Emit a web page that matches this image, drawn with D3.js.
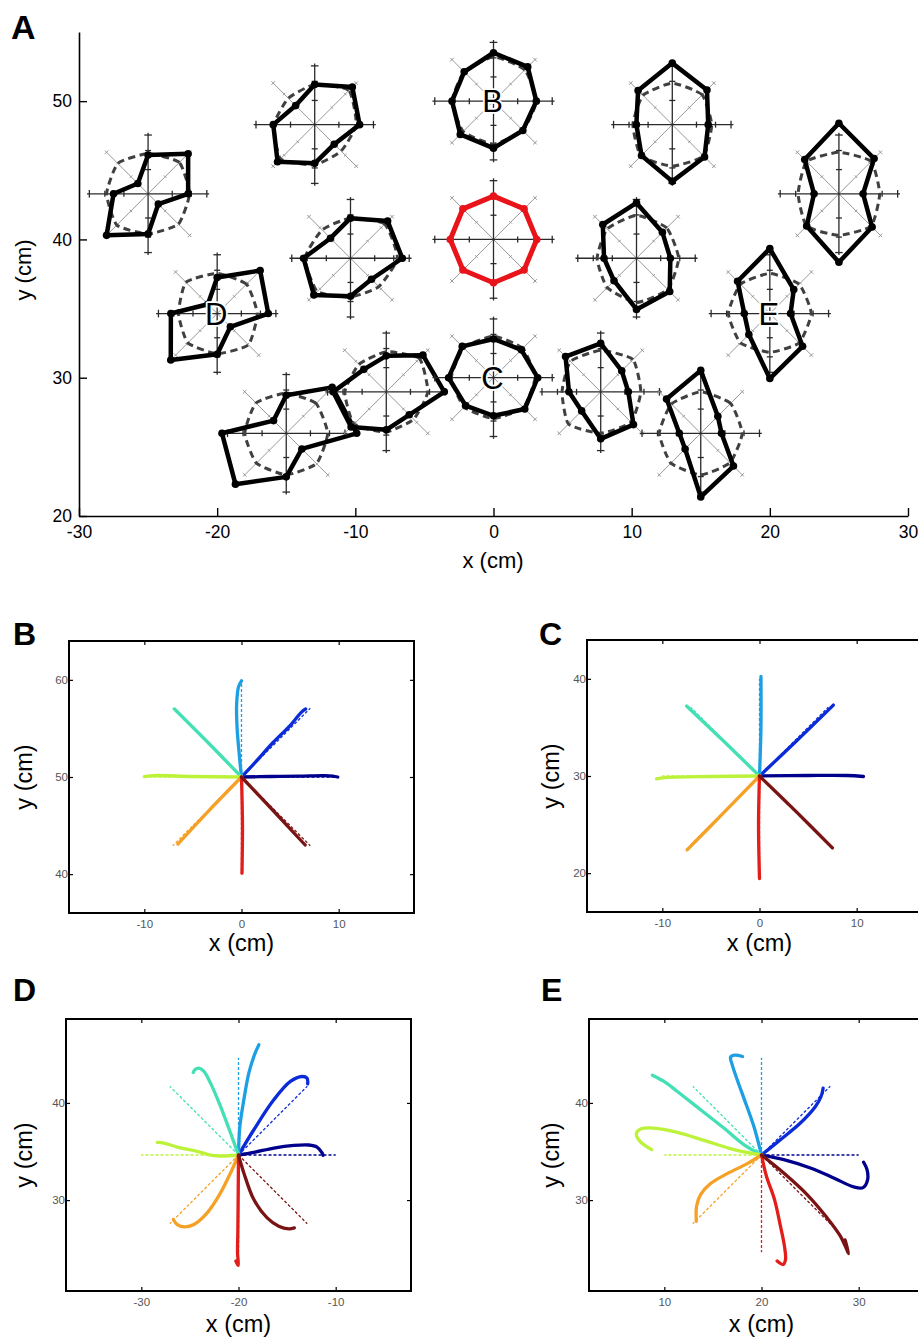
<!DOCTYPE html>
<html>
<head>
<meta charset="utf-8">
<script src="https://cdn.jsdelivr.net/npm/d3@7"></script>
<style>
  body { margin: 0; background: #fff; }
  svg { display: block; }
</style>
</head>
<body>
<svg id="fig" width="918" height="1338"></svg>
<script>
// Reaching directions: E, NE, N, NW, W, SW, S, SE
const dirAngles = [0, 45, 90, 135, 180, 225, 270, 315];
const dirColors = ["#00008c", "#0b2bd8", "#1d9fe3", "#42e0b4", "#bdf23a", "#f4a126", "#e31d1a", "#7a1313"];

// ---------------------------
// Panel A data (cm)
// ---------------------------
const xTicksA = [-30, -20, -10, 0, 10, 20, 30];
const yTicksA = [20, 30, 40, 50];

const starX = [-25, -12.94, 0, 12.94, 25, -20, -10.35, 0, 10.35, 20, -15, -7.76, 0, 7.76, 15];
const starY = [43.3, 48.3, 50, 48.3, 43.3, 34.64, 38.64, 40, 38.64, 34.64, 25.98, 28.98, 30, 28.98, 25.98];
const starLabel = ["", "", "B", "", "", "D", "", "", "", "E", "", "", "C", "", ""];
const refStar = 7; // red reference workspace location

// radius (cm) of each vertex, per direction E..SE
const solidR = [
  [2.9, 4.1, 2.8, 1.05, 2.5, 4.25, 2.9, 1.05],
  [3.25, 3.85, 2.9, 1.95, 3.0, 3.8, 2.8, 2.0],
  [3.1, 3.5, 3.5, 3.0, 3.0, 3.4, 3.4, 3.0],
  [2.6, 3.55, 4.45, 3.5, 2.6, 3.15, 4.1, 3.3],
  [1.75, 3.6, 5.1, 3.5, 1.8, 3.3, 4.95, 3.4],
  [3.7, 4.4, 2.6, 0.95, 3.35, 4.75, 2.95, 1.35],
  [3.75, 3.8, 2.9, 2.05, 3.4, 3.75, 2.75, 2.15],
  [3.13, 3.13, 3.13, 3.13, 3.13, 3.13, 3.13, 3.13],
  [2.45, 2.65, 4.0, 3.45, 2.35, 2.3, 3.7, 3.4],
  [1.5, 2.45, 4.7, 3.3, 1.85, 2.15, 4.7, 3.35],
  [5.1, 4.7, 2.75, 1.3, 4.65, 5.2, 3.15, 1.6],
  [4.2, 3.75, 2.6, 2.3, 3.85, 3.6, 2.75, 2.35],
  [3.2, 2.85, 2.8, 3.2, 3.25, 2.85, 2.75, 3.2],
  [2.0, 2.15, 3.5, 3.6, 2.3, 1.95, 3.4, 3.35],
  [1.5, 1.75, 4.55, 3.5, 1.55, 1.6, 4.6, 3.35]
];
const dashR = [
  [3.0, 3.2, 2.9, 3.1, 3.0, 3.2, 2.9, 3.1],
  [3.0, 3.5, 2.9, 2.7, 2.95, 3.5, 2.9, 2.7],
  [3.1, 3.2, 3.2, 3.0, 3.0, 3.1, 3.1, 3.0],
  [2.85, 3.05, 3.0, 3.0, 2.85, 3.2, 3.0, 3.2],
  [2.95, 3.3, 3.0, 3.3, 2.95, 3.3, 3.0, 3.3],
  [2.9, 3.0, 2.9, 3.2, 2.8, 3.0, 2.9, 3.2],
  [3.4, 3.5, 2.9, 2.9, 3.3, 3.4, 2.8, 2.9],
  [3.13, 3.13, 3.13, 3.13, 3.13, 3.13, 3.13, 3.13],
  [3.05, 3.1, 3.1, 3.0, 2.85, 3.0, 3.2, 3.2],
  [3.0, 3.0, 2.9, 3.0, 3.0, 3.0, 2.8, 3.0],
  [3.0, 3.05, 2.9, 3.1, 3.0, 3.05, 3.0, 3.1],
  [3.0, 3.4, 2.9, 2.8, 3.0, 3.3, 2.9, 2.8],
  [3.0, 3.0, 3.0, 3.05, 3.05, 3.0, 2.95, 3.05],
  [2.9, 3.3, 3.0, 3.1, 2.8, 3.3, 3.0, 3.1],
  [3.0, 3.05, 3.0, 3.0, 3.0, 3.05, 3.0, 3.0]
];

// ---------------------------
// Panels B-E data (cm)
// ---------------------------
const idealDX = [10, 7.07, 0, -7.07, -10, -7.07, 0, 7.07];
const idealDY = [0, 7.07, 10, 7.07, 0, -7.07, -10, -7.07];

const centerB = [0, 50];
const xTicksB = [-10, 0, 10], yTicksB = [40, 50, 60];
const trajB = [
  [[0, 50], [3, 50.05], [6, 50.1], [8.5, 50.15], [9.4, 50.1], [9.9, 50]],
  [[0, 50], [1.5, 51.6], [3.2, 53.5], [5, 55.3], [6.2, 56.7], [6.6, 57.0]],
  [[0, 50], [-0.2, 52], [-0.45, 55], [-0.5, 57.5], [-0.3, 59.3], [0, 59.9]],
  [[0, 50], [-3.4, 53.5], [-6.9, 57.0]],
  [[0, 50], [-5, 50.05], [-9, 50.15], [-10, 50.05]],
  [[0, 50], [-3.3, 46.6], [-6.55, 43.1]],
  [[0, 50], [0.1, 45], [0.05, 40.1]],
  [[0, 50], [3.3, 46.5], [6.55, 43.0]]
];

const centerC = [0, 30];
const xTicksC = [-10, 0, 10], yTicksC = [20, 30, 40];
const trajC = [
  [[0, 30], [5, 30.05], [9, 30.05], [10.7, 29.95]],
  [[0, 30], [3.8, 33.6], [7.6, 37.3]],
  [[0, 30], [0.15, 35], [0.15, 40.25]],
  [[0, 30], [-3.7, 33.6], [-7.5, 37.2]],
  [[0, 30], [-5, 29.95], [-9.5, 29.85], [-10.6, 29.7]],
  [[0, 30], [-3.7, 26.2], [-7.45, 22.4]],
  [[0, 30], [-0.1, 25], [0, 19.45]],
  [[0, 30], [3.8, 26.3], [7.5, 22.6]]
];

const centerD = [-20, 34.64];
const xTicksD = [-30, -20, -10], yTicksD = [30, 40];
const trajD = [
  [[-20, 34.64], [-18.42, 34.91], [-16.37, 35.36], [-14.32, 35.63], [-12.77, 35.67], [-11.92, 35.46], [-11.4, 34.85], [-11.3, 34.6]],
  [[-20, 34.64], [-18.42, 37.24], [-16.37, 40.32], [-14.66, 42.21], [-13.46, 42.72], [-12.95, 42.55], [-12.88, 41.97]],
  [[-20, 34.64], [-19.86, 37.59], [-19.45, 40.32], [-18.94, 43.06], [-18.36, 44.95], [-17.91, 45.98]],
  [[-20, 34.64], [-20.82, 36.9], [-21.85, 39.64], [-22.88, 42.04], [-23.56, 43.24], [-24.08, 43.58], [-24.49, 43.41], [-24.66, 43.13]],
  [[-20, 34.64], [-22.53, 34.57], [-24.25, 35.02], [-26.3, 35.46], [-27.67, 35.87], [-28.36, 35.94]],
  [[-20, 34.64], [-20.82, 32.79], [-21.85, 30.74], [-23.22, 28.68], [-24.59, 27.48], [-25.55, 27.24], [-26.3, 27.48], [-26.71, 28.0]],
  [[-20, 34.64], [-20.03, 30.74], [-20.07, 26.63], [-20.1, 24.57], [-20.03, 23.27], [-20.27, 23.72]],
  [[-20, 34.64], [-19.45, 32.79], [-18.42, 30.05], [-17.05, 28.17], [-15.86, 27.31], [-14.83, 27.04], [-14.25, 27.14]]
];

const centerE = [20, 34.64];
const xTicksE = [10, 20, 30], yTicksE = [30, 40];
const trajE = [
  [[20, 34.64], [22.29, 34.16], [25.03, 33.3], [27.43, 32.28], [29.49, 31.35], [30.45, 31.28], [30.92, 32.11], [30.86, 33.13], [30.51, 33.89]],
  [[20, 34.64], [21.95, 36.22], [24.0, 37.93], [25.55, 39.64], [26.13, 40.67], [26.34, 41.52]],
  [[20, 34.64], [19.21, 37.59], [18.25, 40.32], [17.5, 42.38], [16.99, 43.92], [16.82, 44.71], [17.23, 44.91], [18.05, 44.78]],
  [[20, 34.64], [18.18, 35.7], [16.13, 37.41], [13.73, 39.3], [11.34, 41.18], [9.97, 42.21], [8.77, 42.86]],
  [[20, 34.64], [17.16, 35.19], [14.08, 36.15], [11.34, 36.97], [8.94, 37.41], [7.57, 37.31], [7.12, 36.83], [7.5, 36.04], [8.7, 35.19]],
  [[20, 34.64], [18.53, 33.75], [16.47, 32.72], [14.76, 31.7], [13.73, 30.56], [13.32, 29.37], [13.29, 27.82]],
  [[20, 34.64], [20.51, 32.45], [21.34, 30.05], [21.95, 27.31], [22.36, 25.26], [22.47, 23.89], [22.23, 23.37], [21.61, 23.72]],
  [[20, 34.64], [22.29, 32.79], [24.69, 30.57], [26.75, 28.17], [28.12, 26.28], [28.97, 24.5], [28.6, 25.9]]
];

const FONT = '"Liberation Sans", Arial, Helvetica, sans-serif';
const svg = d3.select("#fig").attr("font-family", FONT);
const rad = a => a * Math.PI / 180;
const plainNum = d => String(d); // hyphen minus, as in the original

// ---------------------------
// Panel A
// ---------------------------
const xA = d3.scaleLinear().domain([-30, 30]).range([79, 908]);
const yA = d3.scaleLinear().domain([20, 55]).range([516, 32]);

function styleAxis(g, size) {
  g.attr("font-family", FONT).attr("font-size", size);
  g.select(".domain").attr("stroke", "#000").attr("stroke-width", 1.6);
  g.selectAll(".tick line").attr("stroke", "#000").attr("stroke-width", 1.4);
  g.selectAll(".tick text").attr("fill", "#000");
}

const gA = svg.append("g");

gA.append("g")
  .attr("transform", `translate(0,${yA(20)})`)
  .call(d3.axisBottom(xA).tickValues(xTicksA).tickFormat(plainNum).tickSize(-8).tickSizeOuter(0).tickPadding(10))
  .call(styleAxis, 17.5);

gA.append("g")
  .attr("transform", `translate(${xA(-30)},0)`)
  .call(d3.axisLeft(yA).tickValues(yTicksA).tickFormat(plainNum).tickSize(-8).tickSizeOuter(0).tickPadding(7))
  .call(styleAxis, 17.5);

gA.append("text").attr("x", 493).attr("y", 568).attr("text-anchor", "middle")
  .attr("font-size", 22).text("x (cm)");
gA.append("text").attr("transform", "translate(31,270) rotate(-90)").attr("text-anchor", "middle")
  .attr("font-size", 22).text("y (cm)");
gA.append("text").attr("x", 11).attr("y", 39).attr("font-size", 34).attr("font-weight", "bold").text("A");

const SPOKE = 4.42, CAP = 4.25, TICKS = [1.75, 3.13];
const polyLine = d3.line().x(d => xA(d[0])).y(d => yA(d[1])).curve(d3.curveLinearClosed);
const dashLine = d3.line().x(d => xA(d[0])).y(d => yA(d[1])).curve(d3.curveCardinalClosed.tension(0.5));

starX.forEach((cx, i) => {
  const cy = starY[i];
  const g = gA.append("g");

  // spokes: diagonals (grey) first, then horizontal / vertical (dark)
  [1, 3, 5, 7, 0, 2, 4, 6].forEach(k => {
    const a = rad(dirAngles[k]), c = Math.cos(a), s = Math.sin(a);
    const diag = k % 2 === 1;
    const col = diag ? "#8c8c8c" : "#2a2a2a";
    const w = diag ? 0.9 : 1.3;
    g.append("line")
      .attr("x1", xA(cx)).attr("y1", yA(cy))
      .attr("x2", xA(cx + SPOKE * c)).attr("y2", yA(cy + SPOKE * s))
      .attr("stroke", col).attr("stroke-width", w);
    [...TICKS, CAP].forEach((t, j) => {
      const px = xA(cx + t * c), py = yA(cy + t * s);
      const h = j === TICKS.length ? (diag ? 2.6 : 3.8) : (diag ? 1.8 : 3);
      g.append("line")
        .attr("x1", px - h * s).attr("y1", py - h * c)
        .attr("x2", px + h * s).attr("y2", py + h * c)
        .attr("stroke", col).attr("stroke-width", w);
    });
  });

  const verts = r => dirAngles.map((a, k) => [cx + r[k] * Math.cos(rad(a)), cy + r[k] * Math.sin(rad(a))]);
  const isRef = i === refStar;
  const solidCol = isRef ? "#e8141a" : "#000";

  if (!isRef) {
    g.append("path").attr("d", dashLine(verts(dashR[i])))
      .attr("fill", "none").attr("stroke", "#404040").attr("stroke-width", 3)
      .attr("stroke-dasharray", "7,4.5");
  }
  const sv = verts(solidR[i]);
  g.append("path").attr("d", polyLine(sv))
    .attr("fill", "none").attr("stroke", solidCol)
    .attr("stroke-width", isRef ? 5 : 4.5).attr("stroke-linejoin", "round");
  g.selectAll("circle").data(sv).join("circle")
    .attr("cx", d => xA(d[0])).attr("cy", d => yA(d[1])).attr("r", 3.8)
    .attr("fill", solidCol);

  if (starLabel[i]) {
    g.append("text").attr("x", xA(cx) - 1).attr("y", yA(cy) + 11)
      .attr("text-anchor", "middle").attr("font-size", 31)
      .attr("fill", "#000").attr("stroke", "#fff").attr("stroke-width", 3.5)
      .attr("paint-order", "stroke").attr("stroke-linejoin", "round")
      .text(starLabel[i]);
  }
});

// ---------------------------
// Panels B-E
// ---------------------------
function drawTrajPanel(p) {
  const W = 345, H = 272;
  const [cx, cy] = p.center;
  const x = d3.scaleLinear().domain([cx - 17.75, cx + 17.75]).range([p.left, p.left + W]);
  const y = d3.scaleLinear().domain([cy - 14, cy + 14]).range([p.top + H, p.top]);
  const g = svg.append("g");

  const small = sel => {
    sel.attr("font-family", FONT).attr("font-size", 11.5);
    sel.select(".domain").remove();
    sel.selectAll(".tick line").attr("stroke", "#000").attr("stroke-width", 1.2);
    sel.selectAll(".tick text").attr("fill", "#555");
  };

  g.append("g").attr("transform", `translate(0,${p.top + H})`)
    .call(d3.axisBottom(x).tickValues(p.xTicks).tickFormat(plainNum).tickSize(-4).tickPadding(7)).call(small);
  g.append("g").attr("transform", `translate(0,${p.top})`)
    .call(d3.axisTop(x).tickValues(p.xTicks).tickSize(-4).tickFormat("")).call(small);
  g.append("g").attr("transform", `translate(${p.left},0)`)
    .call(d3.axisLeft(y).tickValues(p.yTicks).tickFormat(plainNum).tickSize(-4).tickPadding(1)).call(small);
  g.append("g").attr("transform", `translate(${p.left + W},0)`)
    .call(d3.axisRight(y).tickValues(p.yTicks).tickSize(-4).tickFormat("")).call(small);

  g.append("rect").attr("x", p.left).attr("y", p.top).attr("width", W).attr("height", H)
    .attr("fill", "none").attr("stroke", "#000").attr("stroke-width", 2);

  // ideal straight reaches
  idealDX.forEach((dx, k) => {
    g.append("line")
      .attr("x1", x(cx)).attr("y1", y(cy))
      .attr("x2", x(cx + dx)).attr("y2", y(cy + idealDY[k]))
      .attr("stroke", dirColors[k]).attr("stroke-width", 1.3)
      .attr("stroke-dasharray", "3,2");
  });

  const line = d3.line().x(d => x(d[0])).y(d => y(d[1])).curve(d3.curveCatmullRom.alpha(0.5));
  g.selectAll("path.traj").data(p.traj).join("path")
    .attr("class", "traj")
    .attr("d", line)
    .attr("fill", "none")
    .attr("stroke", (d, k) => dirColors[k])
    .attr("stroke-width", 3.3)
    .attr("stroke-linecap", "round")
    .attr("stroke-linejoin", "round");

  g.append("text").attr("x", x(cx)).attr("y", p.xLabelY).attr("text-anchor", "middle")
    .attr("font-size", 23.5).text("x (cm)");
  g.append("text").attr("transform", `translate(${p.yLabelX},${y(cy)}) rotate(-90)`)
    .attr("text-anchor", "middle").attr("font-size", 23.5).text("y (cm)");
  g.append("text").attr("x", p.labelPos[0]).attr("y", p.labelPos[1])
    .attr("font-size", 32).attr("font-weight", "bold").text(p.label);
}

drawTrajPanel({ label: "B", labelPos: [13, 645], left: 69, top: 641, center: centerB,
  xTicks: xTicksB, yTicks: yTicksB, traj: trajB, xLabelY: 951, yLabelX: 32 });
drawTrajPanel({ label: "C", labelPos: [539, 645], left: 587, top: 640, center: centerC,
  xTicks: xTicksC, yTicks: yTicksC, traj: trajC, xLabelY: 951, yLabelX: 559 });
drawTrajPanel({ label: "D", labelPos: [13, 1001], left: 66, top: 1019, center: centerD,
  xTicks: xTicksD, yTicks: yTicksD, traj: trajD, xLabelY: 1332, yLabelX: 32 });
drawTrajPanel({ label: "E", labelPos: [541, 1001], left: 589, top: 1019, center: centerE,
  xTicks: xTicksE, yTicks: yTicksE, traj: trajE, xLabelY: 1332, yLabelX: 559 });
</script>
</body>
</html>
